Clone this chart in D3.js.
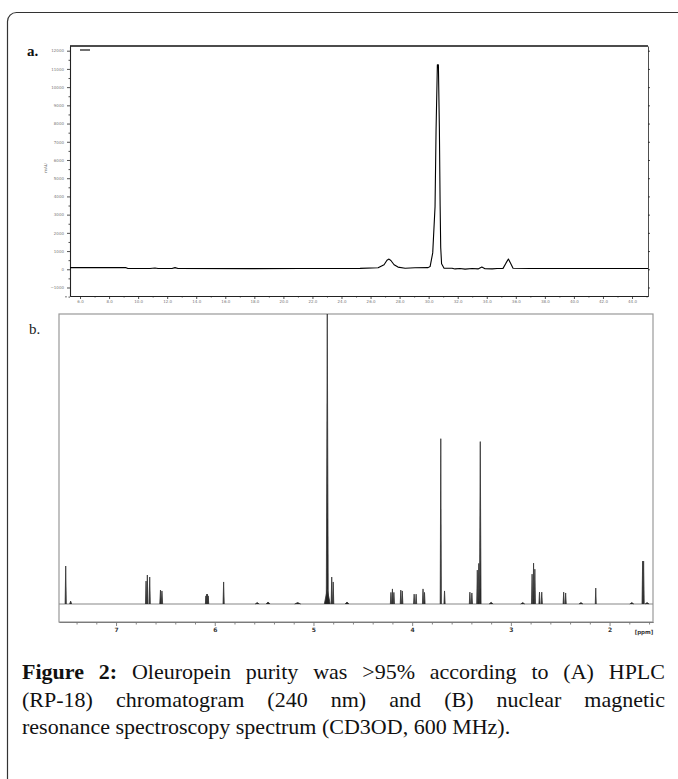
<!DOCTYPE html>
<html><head><meta charset="utf-8">
<script src="https://cdn.jsdelivr.net/npm/d3@7"></script>
<style>html,body{margin:0;padding:0;background:#fff;} svg{display:block;}</style>
</head><body>
<svg id="c" width="678" height="779"></svg>
<script>
// ---------- DATA ----------
// (a) HPLC chromatogram: retention time (min) and detector signal
const hplcTime   = [5.31, 9.17, 9.30, 10.82, 11.16, 11.37, 12.33, 12.54, 12.75, 17.70, 21.15, 25.28, 26.52, 26.93, 27.13, 27.27, 27.40, 27.62, 27.89, 28.38, 29.06, 29.96, 30.10, 30.28, 30.44, 30.51, 30.60, 30.67, 30.74, 30.79, 30.83, 30.89, 31.06, 31.61, 31.82, 32.16, 32.51, 32.99, 33.40, 33.66, 33.88, 34.37, 34.71, 35.12, 35.33, 35.49, 35.64, 35.81, 36.98, 41.80, 45.10];
const hplcSignal = [90, 90, 40, 40, 70, 40, 40, 90, 40, 35, 40, 50, 80, 250, 500, 560, 480, 250, 120, 60, 80, 90, 150, 900, 3440, 7650, 11225, 11225, 7650, 3500, 1200, 300, 60, 60, 20, 40, 10, 40, 20, 120, 30, 20, 40, 50, 350, 560, 330, 60, 40, 40, 40];
const hplcXTicks = [6, 8, 10, 12, 14, 16, 18, 20, 22, 24, 26, 28, 30, 32, 34, 36, 38, 40, 42, 44];
const hplcYTicks = [-1000, 0, 1000, 2000, 3000, 4000, 5000, 6000, 7000, 8000, 9000, 10000, 11000, 12000];

// (b) 1H NMR peaks: chemical shift (ppm), relative height, half base width (ppm)
const nmrPpm    = [7.51, 7.46, 6.696, 6.683, 6.659, 6.55, 6.535, 6.09, 6.082, 6.074, 6.066, 5.91, 5.57, 5.46, 5.16, 4.86, 4.86, 4.815, 4.80, 4.66, 4.215, 4.20, 4.185, 4.115, 4.10, 3.98, 3.96, 3.89, 3.875, 3.71, 3.672, 3.415, 3.395, 3.34, 3.325, 3.31, 3.20, 2.88, 2.785, 2.77, 2.757, 2.71, 2.687, 2.465, 2.445, 2.29, 2.14, 1.775, 1.665, 1.655, 1.62];
const nmrHeight = [13.1, 1.0, 7.9, 10.0, 9.3, 4.8, 4.5, 2.8, 3.4, 3.4, 2.8, 7.6, 0.5, 0.7, 0.5, 100, 5.0, 9.3, 7.6, 0.7, 4.0, 5.2, 4.0, 4.8, 4.5, 3.4, 3.4, 5.2, 4.0, 57, 4.5, 4.1, 3.8, 11.7, 14, 56, 0.6, 0.5, 10.3, 14.1, 12.0, 4.1, 4.1, 4.1, 3.8, 0.5, 5.5, 0.5, 14.8, 14.8, 0.5];
const nmrWidth  = [0.006, 0.01, 0.006, 0.006, 0.006, 0.007, 0.007, 0.005, 0.005, 0.005, 0.005, 0.006, 0.02, 0.02, 0.03, 0.01, 0.03, 0.006, 0.006, 0.02, 0.006, 0.006, 0.006, 0.006, 0.006, 0.006, 0.006, 0.006, 0.006, 0.006, 0.006, 0.006, 0.006, 0.006, 0.008, 0.008, 0.02, 0.02, 0.006, 0.006, 0.006, 0.006, 0.006, 0.006, 0.006, 0.02, 0.005, 0.02, 0.006, 0.006, 0.02];
const nmrTicks  = [7, 6, 5, 4, 3, 2];

const captionLines = [
  "Figure 2: Oleuropein purity was >95% according to (A) HPLC",
  "(RP-18) chromatogram (240 nm) and (B) nuclear magnetic",
  "resonance spectroscopy spectrum (CD3OD, 600 MHz)."
];

// ---------- DRAW ----------
const svg = d3.select("#c");

// outer rounded frame (continues beyond right and bottom edges)
svg.append("rect").attr("x", 7.5).attr("y", 12.5).attr("width", 720).attr("height", 820)
  .attr("rx", 9).attr("fill", "none").attr("stroke", "#333").attr("stroke-width", 1.2);

// ===== panel a =====
const xA = d3.scaleLinear().domain([5.31, 45.1]).range([70, 648]);
const yA = d3.scaleLinear().domain([-1467, 12258]).range([296, 46]);

svg.append("text").attr("x", 27).attr("y", 56).text("a.")
  .attr("font-family", "Liberation Serif").attr("font-size", 15).attr("font-weight", "bold").attr("fill", "#111");

const minorY = d3.range(-1500, 12500, 500).filter(v => v % 1000 !== 0);
const minorX = d3.range(5, 46, 1).filter(v => v % 2 !== 0);

const gYA = svg.append("g").attr("transform", "translate(70,0)")
  .call(d3.axisLeft(yA).tickValues(hplcYTicks).tickSize(3).tickSizeOuter(0).tickFormat(d3.format("d")));
gYA.append("g").call(d3.axisLeft(yA).tickValues(minorY).tickSize(1.5).tickFormat("").tickSizeOuter(0));
const gXA = svg.append("g").attr("transform", "translate(0,296)")
  .call(d3.axisBottom(xA).tickValues(hplcXTicks).tickSize(3).tickSizeOuter(0).tickFormat(d3.format(".1f")));
gXA.append("g").call(d3.axisBottom(xA).tickValues(minorX).tickSize(1.5).tickFormat("").tickSizeOuter(0));
const gRA = svg.append("g").attr("transform", "translate(648,0)")
  .call(d3.axisRight(yA).tickValues(hplcYTicks).tickSize(2).tickFormat("").tickSizeOuter(0));
[gYA, gXA, gRA].forEach(g => {
  g.selectAll("path, line").attr("stroke", "#222").attr("stroke-width", 0.8);
  g.selectAll("text").attr("font-family", "DejaVu Sans").attr("font-size", 4).attr("fill", "#777");
});
gYA.select(".domain").attr("stroke-width", 1.1);
gXA.select(".domain").attr("stroke-width", 1.1);
gXA.selectAll("text").attr("dy", "0.3em");

// top frame line
svg.append("line").attr("x1", 70).attr("x2", 648).attr("y1", 46).attr("y2", 46)
  .attr("stroke", "#111").attr("stroke-width", 1.3);

// y title (tiny)
svg.append("text").attr("transform", "translate(47,168) rotate(-90)").attr("text-anchor", "middle")
  .attr("font-family", "DejaVu Sans").attr("font-size", 4).attr("fill", "#666").text("mAU");

// legend dash
svg.append("line").attr("x1", 80).attr("x2", 90).attr("y1", 50).attr("y2", 50)
  .attr("stroke", "#111").attr("stroke-width", 1.2);

const hplcPts = hplcTime.map((t, i) => [t, hplcSignal[i]]);
svg.append("path").datum(hplcPts)
  .attr("d", d3.line().x(d => xA(d[0])).y(d => yA(d[1])))
  .attr("fill", "none").attr("stroke", "#000").attr("stroke-width", 1.1).attr("stroke-linejoin", "round");

// ===== panel b =====
const xB = d3.scaleLinear().domain([7.578, 1.56]).range([59, 653]);
const yB = d3.scaleLinear().domain([0, 100]).range([604, 314]);

svg.append("text").attr("x", 29).attr("y", 334).text("b.")
  .attr("font-family", "Liberation Serif").attr("font-size", 15).attr("fill", "#222");

svg.append("clipPath").attr("id", "clipB").append("rect")
  .attr("x", 59).attr("y", 314).attr("width", 594).attr("height", 308);

svg.append("rect").attr("x", 59).attr("y", 314).attr("width", 594).attr("height", 308)
  .attr("fill", "none").attr("stroke", "#999").attr("stroke-width", 1.2);

const gB = svg.append("g").attr("clip-path", "url(#clipB)");
// baseline
gB.append("path").datum([[7.578, 0], [1.56, 0]])
  .attr("d", d3.line().x(d => xB(d[0])).y(d => yB(d[1])))
  .attr("stroke", "#888").attr("stroke-width", 1.1).attr("fill", "none");
// peaks
const peakLine = d3.line().x(d => xB(d[0])).y(d => yB(d[1]));
nmrPpm.forEach((p, i) => {
  const w = nmrWidth[i], h = nmrHeight[i];
  gB.append("path")
    .attr("d", peakLine([[p + w, 0], [p, h], [p - w, 0]]))
    .attr("fill", "#222").attr("stroke", "#333").attr("stroke-width", 0.8).attr("stroke-linejoin", "miter");
});

const minorB = d3.range(16, 76, 2).map(v => v / 10).filter(v => Math.abs(v - Math.round(v)) > 1e-6);
const gXB = svg.append("g").attr("transform", "translate(0,622)")
  .call(d3.axisBottom(xB).tickValues(nmrTicks).tickSize(4).tickSizeOuter(0).tickFormat(d3.format("d")));
gXB.append("g").call(d3.axisBottom(xB).tickValues(minorB).tickSize(2.5).tickFormat("").tickSizeOuter(0));
gXB.selectAll("path, line").attr("stroke", "#777").attr("stroke-width", 0.9);
gXB.select(".domain").attr("stroke", "#999").attr("stroke-width", 1.2);
gXB.selectAll("text").attr("font-family", "DejaVu Sans").attr("font-size", 6).attr("font-weight", "bold")
  .attr("fill", "#333").attr("dy", "0.5em");
svg.append("text").attr("x", 644).attr("y", 634).attr("text-anchor", "middle")
  .attr("font-family", "DejaVu Sans").attr("font-size", 5.5).attr("font-weight", "bold").attr("fill", "#333").text("[ppm]");

// ===== caption =====
const capLeft = 22, capRight = 665, capBase = [679, 707, 734];
const capFont = "Liberation Serif", capSize = 22;
captionLines.forEach((line, li) => {
  const words = line.split(" ");
  const g = svg.append("g");
  const nodes = words.map((w, wi) => g.append("text").text(w)
    .attr("font-family", capFont).attr("font-size", capSize)
    .attr("font-weight", (li === 0 && wi < 2) ? "bold" : "normal")
    .attr("fill", "#111").attr("y", capBase[li]));
  const widths = nodes.map(n => n.node().getComputedTextLength());
  const total = d3.sum(widths);
  const justify = li < captionLines.length - 1;
  const gap = justify ? (capRight - capLeft - total) / (words.length - 1) : capSize * 0.25;
  let x = capLeft;
  nodes.forEach((n, i) => { n.attr("x", x); x += widths[i] + gap; });
});
</script>
</body></html>
